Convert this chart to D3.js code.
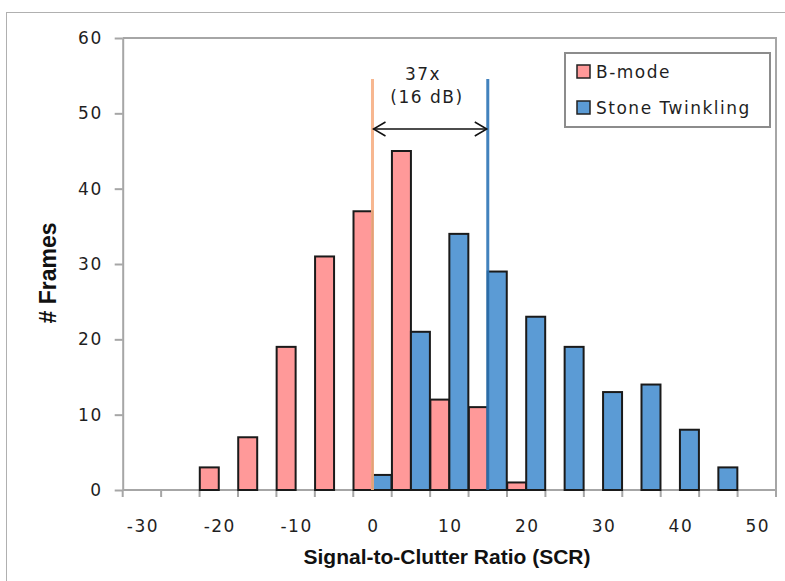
<!DOCTYPE html>
<html>
<head>
<meta charset="utf-8">
<script src="https://cdn.jsdelivr.net/npm/d3@7"></script>
<style>
  body { margin: 0; background: #fff; }
  svg { display: block; }
</style>
</head>
<body>
<div id="chart"></div>
<script>
// SCR histogram: B-mode vs Stone Twinkling
const categories = [-30, -25, -20, -15, -10, -5, 0, 5, 10, 15, 20, 25, 30, 35, 40, 45, 50];
const bmodeCounts = [0, 0, 3, 7, 19, 31, 37, 45, 12, 11, 1, 0, 0, 0, 0, 0, 0];
const twinkleCounts = [0, 0, 0, 0, 0, 0, 2, 21, 34, 29, 23, 19, 13, 14, 8, 3, 0];
const yTicks = [0, 10, 20, 30, 40, 50, 60];
const xTickLabels = [-30, -20, -10, 0, 10, 20, 30, 40, 50];
const markerValues = [0, 15];   // median SCR lines: B-mode, twinkling

const CONFIG = {
  width: 785,
  height: 581,
  plot: { left: 122.7, right: 776, top: 38, bottom: 490 },
  colors: {
    bmode: '#ff9999',
    twinkle: '#5b9bd5',
    bmodeLine: '#f7b084',
    twinkleLine: '#2e75b6',
    axis: '#a6a6a6'
  },
  font: '"DejaVu Sans", Verdana, sans-serif',
  titleFont: '"Liberation Sans", Arial, sans-serif',
  labelSize: '17px',
  spacing: '1.5px'
};

const svg = d3.select('#chart')
  .append('svg')
  .attr('width', CONFIG.width)
  .attr('height', CONFIG.height);

// outer chart frame (runs off the right/bottom edge like the source)
svg.append('rect')
  .attr('x', 6.5)
  .attr('y', 12.5)
  .attr('width', 820)
  .attr('height', 620)
  .attr('fill', '#fff')
  .attr('stroke', '#b0b0b0')
  .attr('stroke-width', 1);

const p = CONFIG.plot;

const x = d3.scaleBand()
  .domain(categories)
  .range([p.left, p.right])
  .padding(0);

const y = d3.scaleLinear()
  .domain([0, 60])
  .range([p.bottom, p.top]);

const bw = x.bandwidth();
const barW = bw * 0.494;
const shift = barW * 0.5;

function labelStyle(sel) {
  sel.style('font-family', CONFIG.font)
    .style('font-size', CONFIG.labelSize)
    .style('letter-spacing', CONFIG.spacing)
    .style('fill', '#1f1f1f');
}

// plot area border (top & right)
svg.append('path')
  .attr('d', `M${p.left},${p.top}H${p.right}V${p.bottom}`)
  .attr('fill', 'none')
  .attr('stroke', CONFIG.colors.axis)
  .attr('stroke-width', 2);

// y axis
const yAxis = svg.append('g')
  .attr('transform', `translate(${p.left},0)`)
  .call(d3.axisLeft(y).tickValues(yTicks).tickSize(8).tickPadding(12).tickSizeOuter(0));

// x axis: ticks on category boundaries, labels on every second category
const xAxis = svg.append('g')
  .attr('transform', `translate(0,${p.bottom})`);

xAxis.append('line')
  .attr('x1', p.left).attr('x2', p.right)
  .attr('stroke', CONFIG.colors.axis)
  .attr('stroke-width', 2);

const boundaries = categories.map(c => x(c)).concat([x(categories[categories.length - 1]) + bw]);
xAxis.selectAll('.xtick')
  .data(boundaries)
  .join('line')
  .attr('class', 'xtick')
  .attr('x1', d => d).attr('x2', d => d)
  .attr('y1', 0).attr('y2', 7)
  .attr('stroke', CONFIG.colors.axis)
  .attr('stroke-width', 2);

xAxis.selectAll('.xlabel')
  .data(xTickLabels)
  .join('text')
  .attr('class', 'xlabel')
  .attr('x', d => x(d) + bw / 2 + 1)
  .attr('y', 42)
  .attr('text-anchor', 'middle')
  .call(labelStyle)
  .text(d => d);

yAxis.select('.domain').attr('stroke', CONFIG.colors.axis).attr('stroke-width', 2);
yAxis.selectAll('.tick line').attr('stroke', CONFIG.colors.axis).attr('stroke-width', 2);
yAxis.selectAll('.tick text').call(labelStyle);

// bars: B-mode first, twinkling drawn on top (50% overlap)
const series = [
  { key: 'bmode', values: bmodeCounts, offset: -shift },
  { key: 'twinkle', values: twinkleCounts, offset: shift }
];

series.forEach(s => {
  const rows = categories.map((c, i) => ({ c, v: s.values[i] })).filter(d => d.v > 0);
  svg.append('g')
    .selectAll('rect')
    .data(rows)
    .join('rect')
    .attr('x', d => x(d.c) + bw / 2 + s.offset - barW / 2)
    .attr('y', d => y(d.v))
    .attr('width', barW)
    .attr('height', d => y(0) - y(d.v))
    .attr('fill', CONFIG.colors[s.key])
    .attr('stroke', '#1a1a1a')
    .attr('stroke-width', 2);
});

// median marker lines
const lineTop = 79;
[CONFIG.colors.bmodeLine, CONFIG.colors.twinkleLine].forEach((col, i) => {
  const cx = x(markerValues[i]) + bw / 2;
  svg.append('line')
    .attr('x1', cx).attr('x2', cx)
    .attr('y1', lineTop).attr('y2', p.bottom)
    .attr('stroke', col)
    .attr('stroke-width', 3)
    .attr('opacity', 0.9);
});

// double arrow between the lines
const ax1 = x(markerValues[0]) + bw / 2 + 1;
const ax2 = x(markerValues[1]) + bw / 2 - 1;
const ay = 129;
svg.append('line')
  .attr('x1', ax1).attr('x2', ax2)
  .attr('y1', ay).attr('y2', ay)
  .attr('stroke', '#111')
  .attr('stroke-width', 1.5);
svg.append('path')
  .attr('d', `M${ax1 + 12},${ay - 7}L${ax1},${ay}L${ax1 + 12},${ay + 7}M${ax2 - 12},${ay - 7}L${ax2},${ay}L${ax2 - 12},${ay + 7}`)
  .attr('fill', 'none')
  .attr('stroke', '#111')
  .attr('stroke-width', 1.5);

svg.append('text')
  .attr('x', 423)
  .attr('y', 80)
  .attr('text-anchor', 'middle')
  .call(labelStyle)
  .text('37x');

svg.append('text')
  .attr('x', 427)
  .attr('y', 103)
  .attr('text-anchor', 'middle')
  .call(labelStyle)
  .text('(16 dB)');

// legend
const legend = svg.append('g').attr('transform', 'translate(565,53)');
legend.append('rect')
  .attr('width', 205)
  .attr('height', 74)
  .attr('fill', '#fff')
  .attr('stroke', '#8c8c8c')
  .attr('stroke-width', 2);

const legendItems = [
  { label: 'B-mode', color: CONFIG.colors.bmode },
  { label: 'Stone Twinkling', color: CONFIG.colors.twinkle }
];
legendItems.forEach((item, i) => {
  const g = legend.append('g').attr('transform', `translate(12,${12 + i * 36})`);
  g.append('rect')
    .attr('width', 13)
    .attr('height', 13)
    .attr('fill', item.color)
    .attr('stroke', '#222')
    .attr('stroke-width', 1.5);
  g.append('text')
    .attr('x', 19)
    .attr('y', 12.5)
    .call(labelStyle)
    .text(item.label);
});

// axis titles
svg.append('text')
  .attr('x', 447)
  .attr('y', 564)
  .attr('text-anchor', 'middle')
  .style('font-family', CONFIG.titleFont)
  .style('font-weight', 'bold')
  .style('font-size', '21px')
  .style('fill', '#111')
  .text('Signal-to-Clutter Ratio (SCR)');

svg.append('text')
  .attr('transform', 'translate(56,273) rotate(-90)')
  .attr('text-anchor', 'middle')
  .style('font-family', CONFIG.titleFont)
  .style('font-weight', 'bold')
  .style('font-size', '23px')
  .style('fill', '#111')
  .text('# Frames');
</script>
</body>
</html>
